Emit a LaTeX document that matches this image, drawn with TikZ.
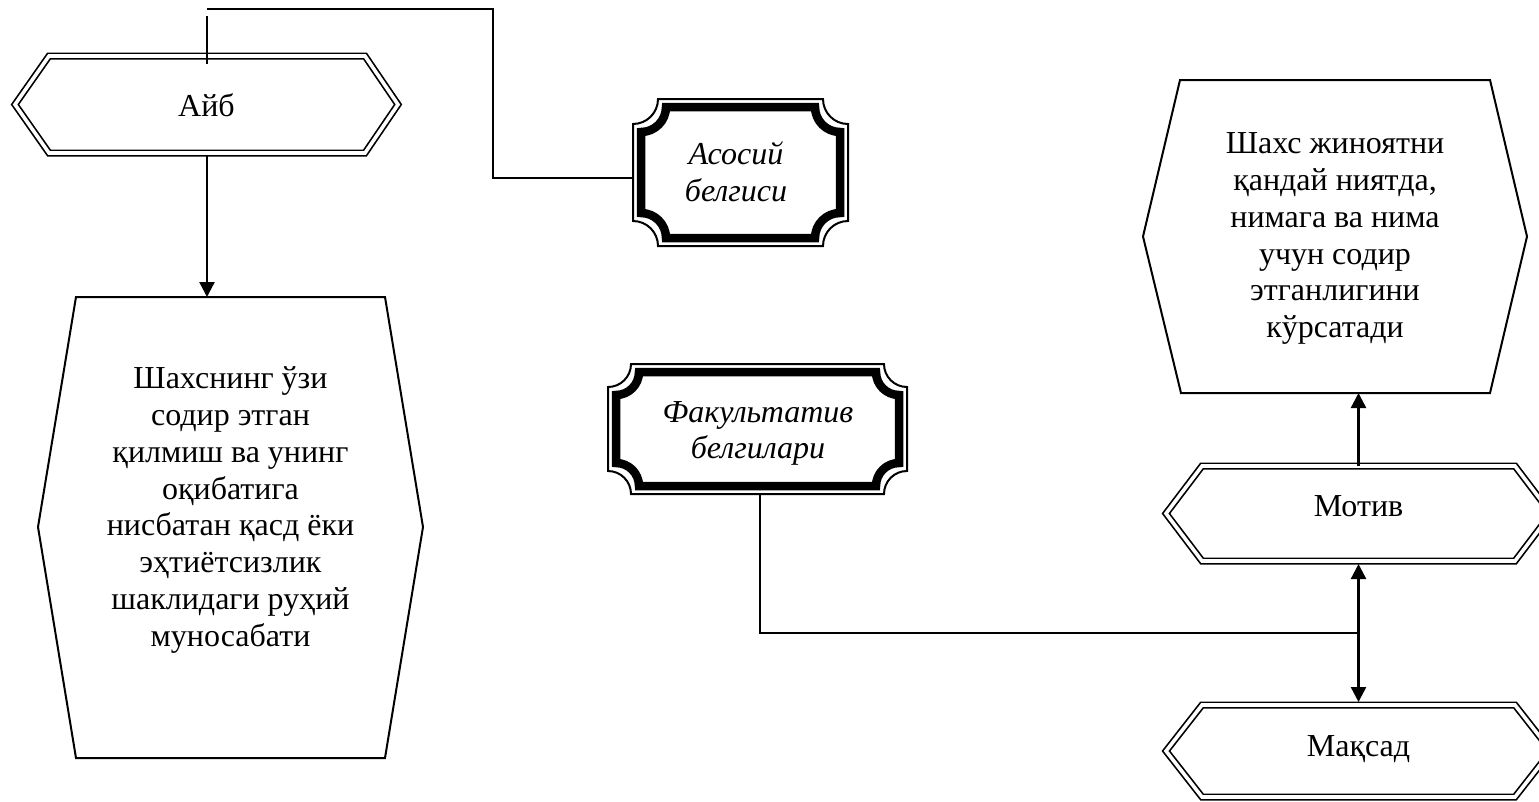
\documentclass[tikz,border=0pt]{standalone}
\usepackage{fontspec}
\setmainfont{Liberation Serif}
\usetikzlibrary{arrows.meta}
\newcommand{\myplaque}[6]{%
  \draw[#6] ({#1+#5},#2) -- ({#3-#5},#2) arc[start angle=180,end angle=90,radius=#5]
    -- (#3,{#4-#5}) arc[start angle=270,end angle=180,radius=#5]
    -- ({#1+#5},#4) arc[start angle=360,end angle=270,radius=#5]
    -- (#1,{#2+#5}) arc[start angle=90,end angle=0,radius=#5] -- cycle;}
\newcommand{\myframe}[5]{%
  \myplaque{#1}{#2}{#3}{#4}{#5}{line width=2pt,line join=miter}%
  \myplaque{#1+8}{#2+8}{#3-8}{#4-8}{#5}{line width=8.5pt,line join=miter}}
\begin{document}
\begin{tikzpicture}[x=1pt,y=-1pt,
  txt/.style={font=\fontsize{32}{36.8}\selectfont, align=center, inner sep=0pt},
  itxt/.style={font=\fontsize{32}{36.8}\selectfont\itshape, align=center, inner sep=0pt},
  dhex/.style={draw, line width=1.7pt, double, double distance=3.6pt, line join=miter},
  shex/.style={draw, line width=2pt, line join=miter},
  conn/.style={line width=1.6pt},
  arr/.style={line width=2.4pt, -{Triangle[width=15pt,length=15pt]}},
  darr/.style={line width=2.4pt, {Triangle[width=15pt,length=15pt]}-{Triangle[width=15pt,length=15pt]}}]
\useasboundingbox (0,0) rectangle (1539,801);
\fill[white] (0,0) rectangle (1539,801);

% shapes
\draw[dhex] (49,56) -- (365,56) -- (398,104.5) -- (365,153) -- (49,153) -- (15,104.5) -- cycle;
\draw[shex] (76,297) -- (385,297) -- (423,527) -- (385,758) -- (76,758) -- (38,527) -- cycle;
\draw[shex] (1180,80) -- (1490,80) -- (1527,236.5) -- (1490,393) -- (1181,393) -- (1143,236.5) -- cycle;
\draw[dhex] (1202,466) -- (1515,466) -- (1551,513.5) -- (1515,561) -- (1202,561) -- (1166,513.5) -- cycle;
\draw[dhex] (1202,705) -- (1515,705) -- (1551,751) -- (1515,797) -- (1202,797) -- (1166,751) -- cycle;
\myframe{633}{99}{848}{246}{25}
\myframe{608}{364}{907}{494}{23}

% texts
\node[txt, anchor=base] (aib) at (206.5,116.7) {Айб};
\node[txt, anchor=north] (shaxs) at (230.5,366.5) {Шахснинг ўзи\\содир этган\\қилмиш ва унинг\\оқибатига\\нисбатан қасд ёки\\эҳтиётсизлик\\шаклидаги руҳий\\муносабати};
\node[itxt, anchor=north] (asosiy) at (736,142) {Асосий\\белгиси};
\node[itxt, anchor=north] (fak) at (758,401) {Факультатив\\белгилари};
\node[txt, anchor=north] (desc) at (1335,132.5) {Шахс жиноятни\\қандай ниятда,\\нимага ва нима\\учун содир\\этганлигини\\кўрсатади};
\node[txt, anchor=base] (motiv) at (1358.5,516) {Мотив};
\node[txt, anchor=base] (maqsad) at (1358.5,756) {Мақсад};

% connector points
\coordinate (aibTopA) at (207,9);
\coordinate (bendA) at (493,9);
\coordinate (bendB) at (493,178);
\coordinate (asosiyW) at (634,178);
\coordinate (aibTop1) at (207,16);
\coordinate (aibTop2) at (207,64);
\coordinate (aibS) at (207,156);
\coordinate (shaxsN) at (207,297);
\coordinate (fakS) at (760,494);
\coordinate (bendC) at (760,633);
\coordinate (junc) at (1358.5,633);
\coordinate (motivN) at (1358.5,466);
\coordinate (descS) at (1358.5,393);
\coordinate (motivS) at (1358.5,564);
\coordinate (maqsadN) at (1358.5,702);

\draw[conn] (aibTopA) -- (bendA) -- (bendB) -- (asosiyW);
\draw[conn] (aibTop1) -- (aibTop2);
\draw[arr] (aibS) -- (shaxsN);
\draw[conn] (fakS) -- (bendC) -- (junc);
\draw[arr] (motivN) -- (descS);
\draw[darr] (motivS) -- (maqsadN);
\end{tikzpicture}
\end{document}
